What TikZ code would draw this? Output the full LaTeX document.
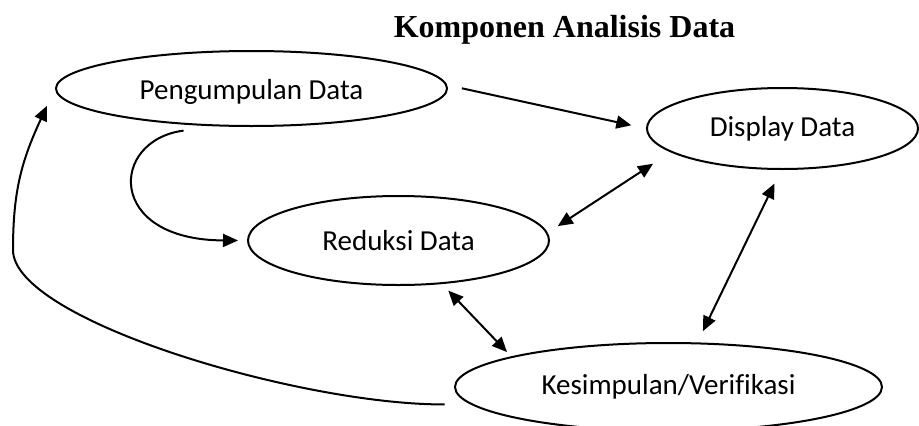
\documentclass[tikz,border=0pt]{standalone}
\usepackage{fontspec}
\setmainfont{Carlito}[Ligatures=NoCommon]
\newfontfamily\judulfont{Liberation Serif}
\usetikzlibrary{shapes.geometric,arrows.meta}

\tikzset{
    proses/.style={draw, ellipse, line width=2pt, inner sep=0pt,
        font=\fontsize{29}{34}\selectfont},
    panah/.style={line width=2pt, -{Triangle[length=15pt,width=13pt]}},
    panahdua/.style={line width=2pt,
        {Triangle[length=15pt,width=13pt]}-{Triangle[length=15pt,width=13pt]}},
}

\begin{document}
\begin{tikzpicture}[x=1pt, y=-1pt]
    \useasboundingbox (0,0) rectangle (919,426);
    % judul
    \node[font=\judulfont\bfseries\fontsize{32}{36}\selectfont, anchor=base]
        (judul) at (564.5,37) {Komponen Analisis Data};
    % komponen
    \node[proses, minimum width=391pt, minimum height=75pt,
        text height=24pt, text depth=2pt]
        (kumpul) at (251.5,88.5) {Pengumpulan Data};
    \node[proses, minimum width=271pt, minimum height=81pt]
        (display) at (782.5,128.5) {Display Data};
    \node[proses, minimum width=301pt, minimum height=89pt]
        (reduksi) at (398.5,240.5) {Reduksi Data};
    \node[proses, minimum width=427pt, minimum height=88pt]
        (simpul) at (668.5,387) {Kesimpulan/Verifikasi};
    % alur
    \draw[panah, shorten <=15pt, shorten >=15pt] (kumpul.1) -- (display.west);
    \draw[panah, shorten >=9pt] ([yshift=-6pt]kumpul.208)
        .. controls (110,140) and (105,240) .. (reduksi.west);
    \draw[panahdua, shorten <=12pt, shorten >=21pt] (reduksi.3) -- (display.192);
    \draw[panahdua, shorten <=15pt, shorten >=12.5pt] (display.268) -- (simpul.57);
    \draw[panahdua, shorten <=9pt, shorten >=6pt] (reduksi.315) -- (simpul.169);
    \draw[panah, shorten <=26pt, shorten >=19pt] (simpul.185)
        .. controls (300,405) and (13,320) .. (13,250)
        .. controls (13,190) and (22,160) .. (kumpul.west);
\end{tikzpicture}
\end{document}
